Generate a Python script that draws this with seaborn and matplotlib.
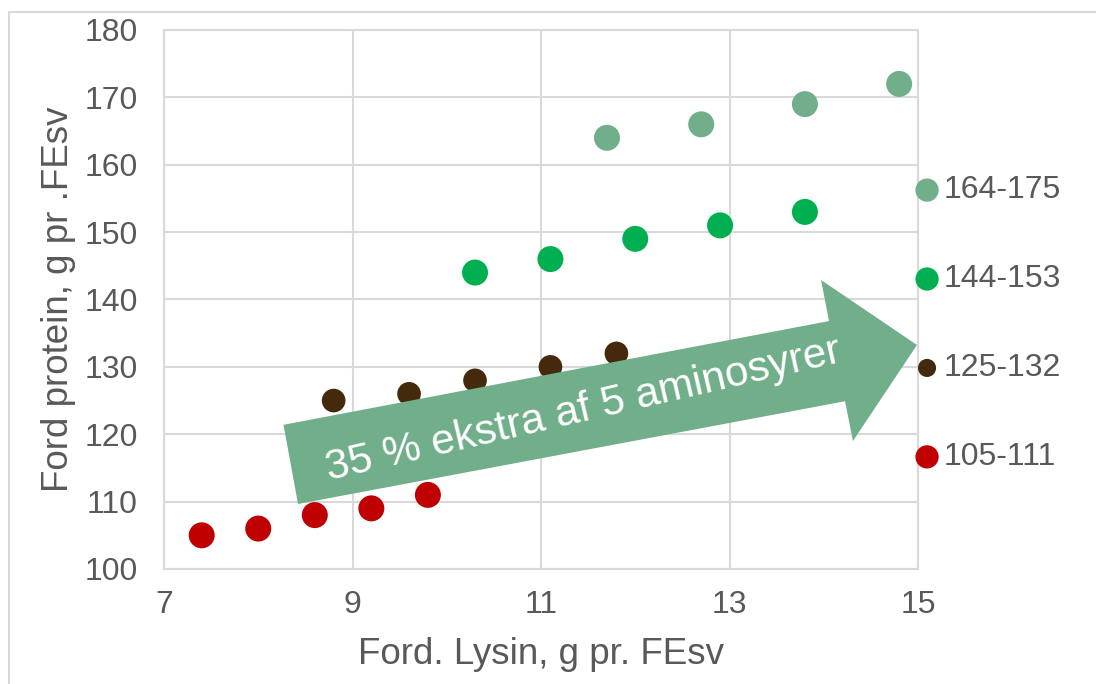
import numpy as np
import pandas as pd
import matplotlib
matplotlib.use("Agg")
import matplotlib.pyplot as plt
from matplotlib.patches import Polygon
from matplotlib.lines import Line2D
import seaborn as sns

# ---- data ----
groups = ["164-175", "144-153", "125-132", "105-111"]
lys_lightgreen = [11.7, 12.7, 13.8, 14.8]
prot_lightgreen = [164, 166, 169, 172]
lys_green = [10.3, 11.1, 12.0, 12.9, 13.8]
prot_green = [144, 146, 149, 151, 153]
lys_brown = [8.8, 9.6, 10.3, 11.1, 11.8]
prot_brown = [125, 126, 128, 130, 132]
lys_red = [7.4, 8.0, 8.6, 9.2, 9.8]
prot_red = [105, 106, 108, 109, 111]

x_ticks = [7, 9, 11, 13, 15]
y_ticks = [100, 110, 120, 130, 140, 150, 160, 170, 180]
arrow_text = "35 % ekstra af 5 aminosyrer"
x_label = "Ford. Lysin, g pr. FEsv"
y_label = "Ford protein, g pr .FEsv"

colors = {"164-175": "#71AE8A", "144-153": "#00B050",
          "125-132": "#45290D", "105-111": "#C00000"}

df = pd.concat([
    pd.DataFrame({"x": lys_lightgreen, "y": prot_lightgreen, "g": groups[0]}),
    pd.DataFrame({"x": lys_green, "y": prot_green, "g": groups[1]}),
    pd.DataFrame({"x": lys_brown, "y": prot_brown, "g": groups[2]}),
    pd.DataFrame({"x": lys_red, "y": prot_red, "g": groups[3]}),
], ignore_index=True)

sns.set_theme(style="white")
plt.rcParams["font.family"] = ["Liberation Sans", "DejaVu Sans"]
TXT = "#595959"
GRID = "#D9D9D9"

fig = plt.figure(figsize=(10.96, 6.84), dpi=100)
ax = fig.add_axes([164/1096, 1 - 569/684, 754/1096, 539/684])

sizes = {"164-175": 350, "144-153": 350, "125-132": 290, "105-111": 350}
for g in groups:
    sub = df[df["g"] == g]
    sns.scatterplot(data=sub, x="x", y="y", color=colors[g], s=sizes[g],
                    edgecolor="none", linewidth=0, ax=ax, legend=False, zorder=3)

ax.set_xlim(7, 15)
ax.set_ylim(100, 180)
ax.set_xticks(x_ticks)
ax.set_yticks(y_ticks)
ax.set_xticklabels([str(t) for t in x_ticks])
ax.set_yticklabels([str(t) for t in y_ticks])
ax.tick_params(axis="both", length=0, labelsize=23, colors=TXT)
ax.tick_params(axis="x", pad=15)
ax.tick_params(axis="y", pad=19)
ax.grid(True, color=GRID, linewidth=1.5)
ax.set_axisbelow(True)
for sp in ax.spines.values():
    sp.set_color(GRID)
    sp.set_linewidth(1.5)
ax.set_xlabel(x_label, fontsize=26.5, color=TXT, labelpad=12)
ax.set_ylabel(y_label, fontsize=26.5, color=TXT, labelpad=6)

# arrow shape (annotation)
arrow_pts = [(8.268, 121.4), (14.056, 136.8), (13.971, 142.9), (14.989, 133.25),
             (14.31, 119.0), (14.226, 124.9), (8.422, 109.65)]
poly = Polygon(arrow_pts, closed=True, facecolor="#71AE8A", edgecolor="none",
               zorder=4, clip_on=False)
ax.add_patch(poly)
ax.text(0.556, 0.295, arrow_text, transform=ax.transAxes, rotation=13,
        rotation_mode="anchor", ha="center", va="center", color="white",
        fontsize=30.5, zorder=5)

# legend at right
leg_sizes = {"164-175": 280, "144-153": 280, "125-132": 170, "105-111": 280}
y0, dy = 0.703, 0.165
for i, g in enumerate(groups):
    yy = y0 - i * dy
    ax.scatter([1.012], [yy], transform=ax.transAxes, s=leg_sizes[g],
               color=colors[g], edgecolor="none", clip_on=False, zorder=5)
    ax.text(1.034, yy, g, transform=ax.transAxes, ha="left", va="center",
            fontsize=23, color=TXT)

# outer chart border (left and top visible)
fig.add_artist(Line2D([9/1096, 9/1096], [0, 1 - 12/684], transform=fig.transFigure,
                      color=GRID, linewidth=1.5))
fig.add_artist(Line2D([9/1096, 1], [1 - 12/684, 1 - 12/684], transform=fig.transFigure,
                      color=GRID, linewidth=1.5))

fig.savefig("out.png", dpi=100)
